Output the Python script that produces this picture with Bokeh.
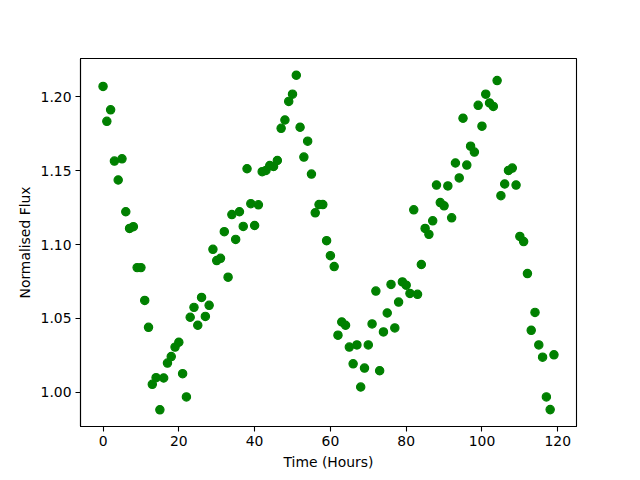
from bokeh.plotting import figure
from bokeh.models import Range1d, FixedTicker, NumeralTickFormatter
from bokeh.embed import file_html
from bokeh.resources import INLINE

# Time (hours) and normalised flux values
hours = [0, 1, 2, 3, 4, 5, 6, 7, 8, 9, 10, 11, 12, 13, 14, 15, 16, 17, 18, 19,
         20, 21, 22, 23, 24, 25, 26, 27, 28, 29, 30, 31, 32, 33, 34, 35, 36, 37, 38, 39,
         40, 41, 42, 43, 44, 45, 46, 47, 48, 49, 50, 51, 52, 53, 54, 55, 56, 57, 58, 59,
         60, 61, 62, 63, 64, 65, 66, 67, 68, 69, 70, 71, 72, 73, 74, 75, 76, 77, 78, 79,
         80, 81, 82, 83, 84, 85, 86, 87, 88, 89, 90, 91, 92, 93, 94, 95, 96, 97, 98, 99,
         100, 101, 102, 103, 104, 105, 106, 107, 108, 109, 110, 111, 112, 113, 114, 115, 116, 117, 118, 119]

flux = [1.2070, 1.1834, 1.1912, 1.1565, 1.1437, 1.1580, 1.1222, 1.1109, 1.1121, 1.0844,
        1.0844, 1.0622, 1.0440, 1.0054, 1.0099, 0.9882, 1.0097, 1.0198, 1.0242, 1.0306,
        1.0339, 1.0126, 0.9969, 1.0508, 1.0575, 1.0454, 1.0642, 1.0514, 1.0589, 1.0968,
        1.0892, 1.0907, 1.1087, 1.0779, 1.1203, 1.1035, 1.1222, 1.1123, 1.1513, 1.1277,
        1.1129, 1.1269, 1.1493, 1.1502, 1.1535, 1.1529, 1.1569, 1.1787, 1.1843, 1.1969,
        1.2018, 1.2146, 1.1794, 1.1592, 1.1700, 1.1477, 1.1215, 1.1271, 1.1271, 1.1026,
        1.0925, 1.0851, 1.0387, 1.0476, 1.0454, 1.0306, 1.0193, 1.0321, 1.0036, 1.0164,
        1.0321, 1.0463, 1.0685, 1.0146, 1.0409, 1.0537, 1.0730, 1.0436, 1.0611, 1.0747,
        1.0725, 1.0669, 1.1235, 1.0663, 1.0865, 1.1109, 1.1069, 1.1161, 1.1403, 1.1284,
        1.1262, 1.1397, 1.1181, 1.1552, 1.1451, 1.1855, 1.1538, 1.1666, 1.1626, 1.1942,
        1.1801, 1.2018, 1.1958, 1.1935, 1.2110, 1.1331, 1.1410, 1.1502, 1.1518, 1.1403,
        1.1055, 1.1020, 1.0804, 1.0420, 1.0541, 1.0321, 1.0238, 0.9969, 0.9883, 1.0254]

x_ticks = [0, 20, 40, 60, 80, 100, 120]
y_ticks = [1.00, 1.05, 1.10, 1.15, 1.20]

xpad = (max(hours) - min(hours)) * 0.05
ypad = (max(flux) - min(flux)) * 0.05

p = figure(width=632, height=472, output_backend="svg", toolbar_location=None,
           x_range=Range1d(min(hours) - xpad, max(hours) + xpad),
           y_range=Range1d(min(flux) - ypad, max(flux) + ypad),
           min_border_left=80, min_border_right=56, min_border_top=58, min_border_bottom=45)

p.scatter(hours, flux, size=8.3, fill_color="#008000", line_color="#008000", line_width=1.2)

p.xgrid.visible = False
p.ygrid.visible = False
p.background_fill_color = "white"
p.border_fill_color = "white"
p.outline_line_color = "black"
p.outline_line_width = 1.1

p.xaxis.ticker = FixedTicker(ticks=x_ticks)
p.yaxis.ticker = FixedTicker(ticks=y_ticks)
p.yaxis.formatter = NumeralTickFormatter(format="0.00")
p.xaxis.axis_label = "Time (Hours)"
p.yaxis.axis_label = "Normalised Flux"

for ax in (p.xaxis, p.yaxis):
    ax.axis_line_color = "black"
    ax.axis_line_width = 1.1
    ax.major_tick_line_color = "black"
    ax.major_tick_line_width = 1.1
    ax.major_tick_in = 0
    ax.major_tick_out = 5
    ax.minor_tick_line_color = None
    ax.major_label_standoff = 4
    ax.major_label_text_font = "DejaVu Sans"
    ax.major_label_text_font_size = "13.9px"
    ax.major_label_text_color = "black"
    ax.axis_label_text_font = "DejaVu Sans"
    ax.axis_label_text_font_size = "13.9px"
    ax.axis_label_text_font_style = "normal"
    ax.axis_label_text_color = "black"
    ax.axis_label_standoff = 5

open("out.html", "w").write(file_html(p, INLINE))
